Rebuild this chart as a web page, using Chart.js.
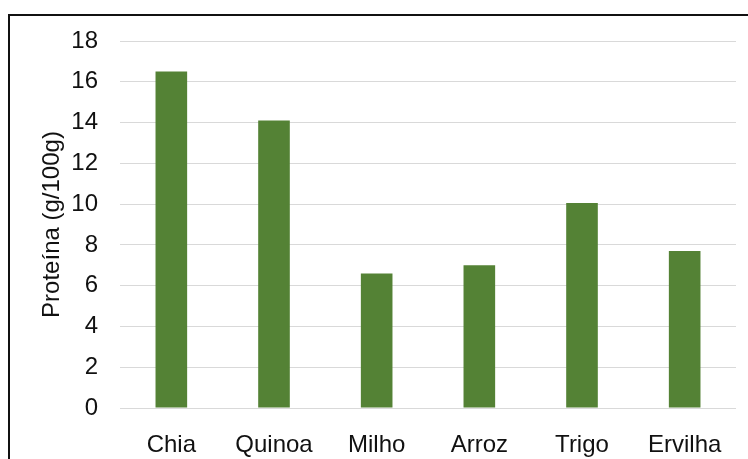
<!DOCTYPE html>
<html>
<head>
<meta charset="utf-8">
<script src="https://cdn.jsdelivr.net/npm/chart.js@4"></script>
<style>
  html, body { margin: 0; padding: 0; background: #fff; }
  .wrap { position: relative; width: 748px; height: 459px; overflow: hidden; }
  .frame {
    position: absolute; left: 8px; top: 14px; width: 760px; height: 480px;
    border-top: 2px solid #111; border-left: 2px solid #111;
    pointer-events: none;
  }
</style>
</head>
<body>
<div class="wrap">
  <canvas id="protChart"></canvas>
  <div class="frame"></div>
</div>
<script>
const categories = ['Chia', 'Quinoa', 'Milho', 'Arroz', 'Trigo', 'Ervilha'];
const proteina = [16.5, 14.1, 6.6, 7.0, 10.05, 7.7];
const yTitle = 'Proteína (g/100g)';

const FONT = '"Liberation Sans", Arial, sans-serif';
const TEXT = '#111111';

const el = document.getElementById('protChart');

new Chart(el, {
  type: 'bar',
  data: {
    labels: categories,
    datasets: [{
      data: proteina,
      backgroundColor: '#548235',
      borderWidth: 0,
      barPercentage: 0.308,
      categoryPercentage: 1,
    }],
  },
  options: {
    responsive: true,
    maintainAspectRatio: false,
    animation: false,
    layout: { padding: { top: 41, right: 12, bottom: 0, left: 0 } },
    plugins: {
      legend: { display: false },
      tooltip: { enabled: false },
    },
    scales: {
      x: {
        grid: { display: false },
        border: { display: false },
        ticks: {
          color: TEXT,
          font: { family: FONT, size: 24 },
          padding: 15,
          maxRotation: 0,
        },
        afterFit(scale) { scale.height = 51; },
      },
      y: {
        min: 0,
        max: 18,
        grid: { color: '#d9d9d9', lineWidth: 1, drawTicks: false },
        border: { display: false },
        ticks: {
          stepSize: 2,
          color: TEXT,
          font: { family: FONT, size: 24 },
          padding: 22,
        },
        title: {
          display: true,
          text: yTitle,
          color: TEXT,
          font: { family: FONT, size: 24 },
          padding: { top: 38, bottom: 0 },
        },
        afterFit(scale) { scale.width = 120; },
      },
    },
  },
});
</script>
</body>
</html>
